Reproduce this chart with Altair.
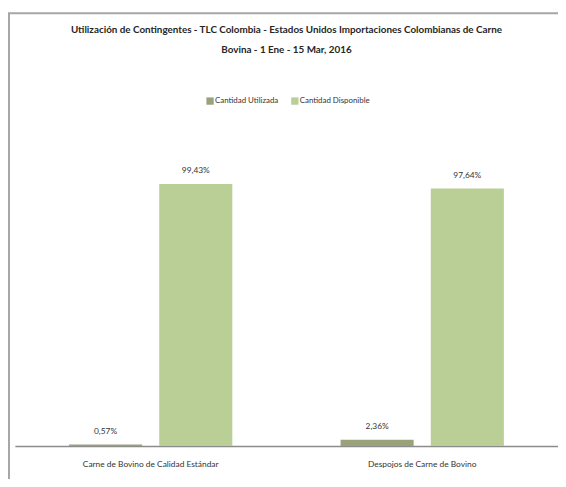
import altair as alt
import pandas as pd

categories = ["Carne de Bovino de Calidad Estándar", "Despojos de Carne de Bovino"]
series = ["Cantidad Utilizada", "Cantidad Disponible"]
utilizada = [0.57, 2.36]
disponible = [99.43, 97.64]
colors = ["#9AA27A", "#B9CF96"]
title_lines = [
    "Utilización de Contingentes - TLC Colombia - Estados Unidos Importaciones Colombianas de Carne",
    "Bovina - 1 Ene - 15 Mar, 2016",
]

rows = []
for i, c in enumerate(categories):
    for s, vals in zip(series, [utilizada, disponible]):
        v = vals[i]
        rows.append({"cat": c, "serie": s, "val": v,
                     "lbl": f"{v:.2f}".replace(".", ",") + "%"})
df = pd.DataFrame(rows)

FONT = "Lato"

base = alt.Chart(df).encode(
    x=alt.X("cat:N", sort=categories, title=None,
            scale=alt.Scale(paddingInner=0, paddingOuter=0),
            axis=alt.Axis(labelAngle=0, ticks=False, domainColor="#8C8C8C",
                          domainWidth=1.5, labelFontSize=8.5, labelColor="#333333",
                          labelPadding=14, labelFont=FONT)),
    xOffset=alt.XOffset("serie:N", sort=series,
                        scale=alt.Scale(paddingInner=0.19, paddingOuter=0.6)),
    y=alt.Y("val:Q", axis=None, scale=alt.Scale(domain=[0, 120])),
)

bars = base.mark_bar().encode(
    color=alt.Color("serie:N", sort=series,
                    scale=alt.Scale(domain=series, range=colors),
                    legend=alt.Legend(title=None, orient="none", legendX=194, legendY=-33,
                                      direction="horizontal", symbolType="square",
                                      symbolSize=55, symbolStrokeWidth=0,
                                      labelFontSize=8, labelFont=FONT,
                                      labelColor="#333333", columnPadding=12,
                                      labelOffset=1)),
)

labels = base.mark_text(baseline="bottom", dy=-9, fontSize=8.5, font=FONT,
                        color="#333333").encode(text="lbl:N")

frame = alt.Chart(alt.Data(values=[{}]))
top_rule = frame.mark_rule(color="#A6A6A6", strokeWidth=2).encode(
    x=alt.value(-8), x2=alt.value(560), y=alt.value(-118))
left_rule = frame.mark_rule(color="#A6A6A6", strokeWidth=2).encode(
    x=alt.value(-6), y=alt.value(-118), y2=alt.value(360))

chart = alt.layer(bars, labels, top_rule, left_rule).properties(
    width=551, height=321,
    autosize=alt.AutoSizeParams(type="none"),
    padding={"left": 7, "top": 120, "right": 0, "bottom": 30},
    title=alt.Title(title_lines, fontSize=10, font=FONT, fontWeight="bold",
                    color="#262626", lineHeight=20, anchor="middle", frame="group",
                    offset=10, dy=53),
).configure_view(stroke=None)

chart.save("out.html", embed_options={"renderer": "svg", "actions": False})
